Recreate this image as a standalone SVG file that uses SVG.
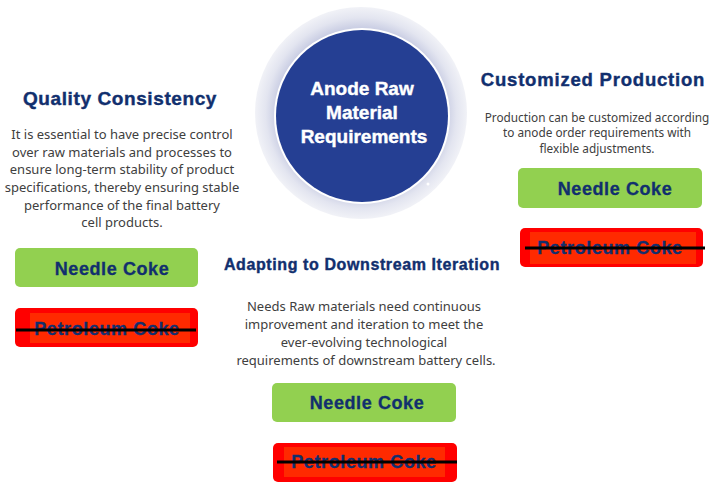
<svg xmlns="http://www.w3.org/2000/svg" width="717" height="501" viewBox="0 0 717 501">
<defs>
<radialGradient id="halo" cx="0.5" cy="0.5" r="0.5">
<stop offset="0.80" stop-color="#c9cde3"/>
<stop offset="0.90" stop-color="#e3e5f0"/>
<stop offset="1" stop-color="#f1f2f7"/>
</radialGradient>
</defs>
<style>
.title{font-family:"Liberation Sans",Arial,sans-serif;font-weight:bold;fill:#112f6e;stroke:#112f6e;stroke-width:0.4;text-anchor:middle}
.ctitle{font-family:"Liberation Sans",Arial,sans-serif;font-weight:bold;fill:#ffffff;stroke:#ffffff;stroke-width:0.4;text-anchor:middle}
.body{font-family:"Noto Sans","Open Sans",sans-serif;fill:#404040;text-anchor:middle}
.lbl{font-family:"Liberation Sans",Arial,sans-serif;font-weight:bold;font-size:18px;letter-spacing:0.6px;fill:#112f6e;stroke:#112f6e;stroke-width:0.3;text-anchor:middle}
.green{fill:#92d050}
.redo{fill:#ff0000}
.redi{fill:#ff2a00}
.strike{stroke:#000;stroke-width:3}
</style>
<rect width="717" height="501" fill="#ffffff"/>
<g id="center">
<circle cx="361" cy="113" r="106" fill="url(#halo)"/>
<circle cx="362" cy="116" r="88" fill="#ffffff"/>
<circle cx="362" cy="116" r="86" fill="#253f93"/>
<circle cx="428" cy="184" r="1.5" fill="#ffffff"/>
<text class="ctitle" x="362" y="95" font-size="19">Anode Raw</text>
<text class="ctitle" x="362" y="119" font-size="19">Material</text>
<text class="ctitle" x="364" y="143" font-size="19">Requirements</text>
</g>
<g id="quality">
<text class="title" x="120" y="105" font-size="19" letter-spacing="0.6">Quality Consistency</text>
<text class="body" font-size="13"><tspan x="122" y="139">It is essential to have precise control</tspan><tspan x="122" y="157">over raw materials and processes to</tspan><tspan x="122" y="174">ensure long-term stability of product</tspan><tspan x="122" y="192">specifications, thereby ensuring stable</tspan><tspan x="122" y="210">performance of the final battery</tspan><tspan x="122" y="227">cell products.</tspan></text>
</g>
<g id="q-needle">
<rect class="green" x="15" y="248" width="183" height="39" rx="5"/>
<text class="lbl" x="112" y="275">Needle Coke</text>
</g>
<g id="q-petro">
<rect class="redo" x="15" y="308" width="183" height="39" rx="5"/>
<rect class="redi" x="30" y="313" width="160" height="30"/>
<text class="lbl" x="107" y="335">Petroleum Coke</text>
<line class="strike" x1="16" y1="330" x2="196" y2="330"/>
</g>
<g id="custom">
<text class="title" x="593" y="86" font-size="18.5" letter-spacing="0.8">Customized Production</text>
<text class="body" font-size="11.8"><tspan x="597" y="121.5">Production can be customized according</tspan><tspan x="597" y="137">to anode order requirements with</tspan><tspan x="597" y="152.5">flexible adjustments.</tspan></text>
</g>
<g id="c-needle">
<rect class="green" x="518" y="168" width="184" height="40" rx="5"/>
<text class="lbl" x="615" y="195">Needle Coke</text>
</g>
<g id="c-petro">
<rect class="redo" x="520" y="228" width="183" height="39" rx="5"/>
<rect class="redi" x="530" y="232" width="166" height="32"/>
<text class="lbl" x="610" y="254">Petroleum Coke</text>
<line class="strike" x1="525" y1="248" x2="705" y2="248"/>
</g>
<g id="adapt">
<text class="title" x="362" y="270" font-size="16" letter-spacing="0.6">Adapting to Downstream Iteration</text>
<text class="body" font-size="13"><tspan x="364" y="311">Needs Raw materials need continuous</tspan><tspan x="364" y="329">improvement and iteration to meet the</tspan><tspan x="364" y="347">ever-evolving technological</tspan><tspan x="366" y="365">requirements of downstream battery cells.</tspan></text>
</g>
<g id="a-needle">
<rect class="green" x="272" y="383" width="184" height="39" rx="5"/>
<text class="lbl" x="367" y="409">Needle Coke</text>
</g>
<g id="a-petro">
<rect class="redo" x="273" y="443" width="184" height="39" rx="5"/>
<rect class="redi" x="284" y="447" width="161" height="30"/>
<text class="lbl" x="364" y="468">Petroleum Coke</text>
<line class="strike" x1="277" y1="462" x2="457" y2="462"/>
</g>
<g id="connectors"/>
</svg>
